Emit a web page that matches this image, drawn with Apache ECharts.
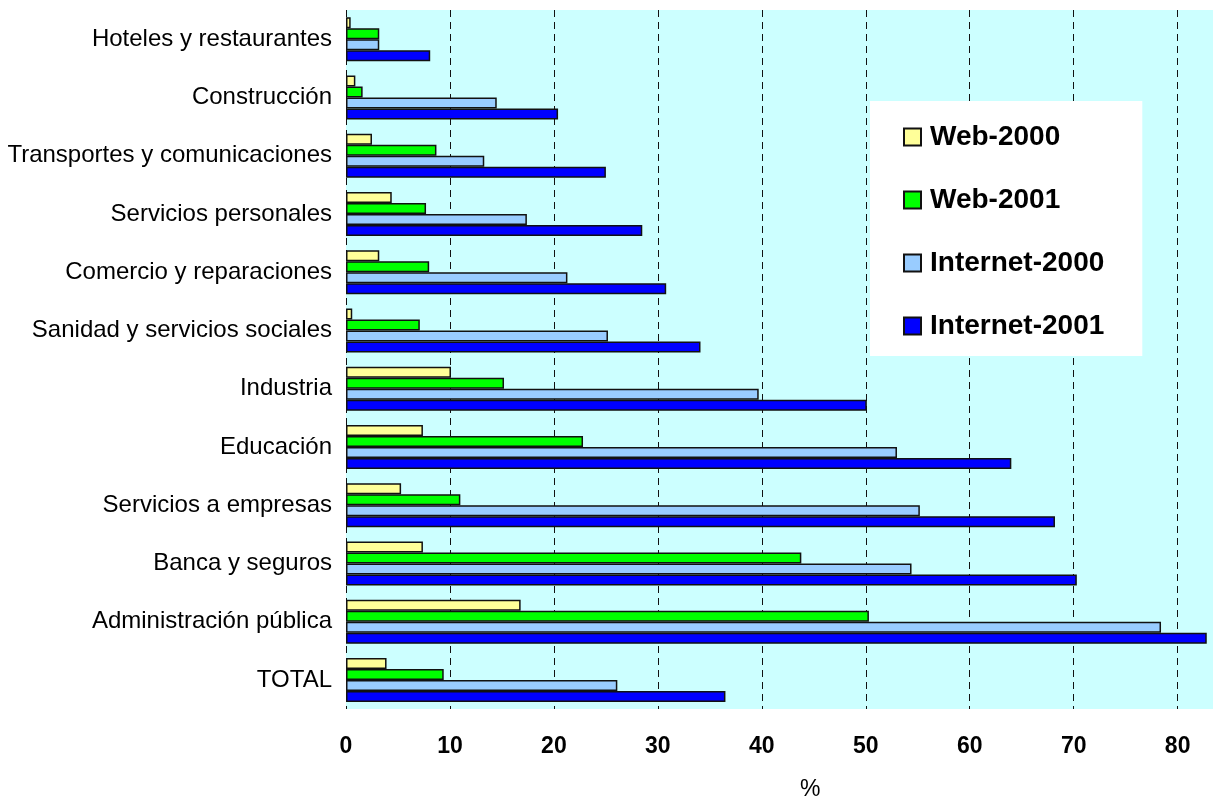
<!DOCTYPE html>
<html>
<head>
<meta charset="utf-8">
<script src="https://cdn.jsdelivr.net/npm/echarts@6/dist/echarts.min.js"></script>
<style>
  html, body { margin: 0; padding: 0; background: #ffffff; }
  #chart { width: 1213px; height: 796px; }
</style>
</head>
<body>
<div id="chart"></div>
<script>
// Sectors, listed top to bottom
const categories = [
  'Hoteles y restaurantes',
  'Construcción',
  'Transportes y comunicaciones',
  'Servicios personales',
  'Comercio y reparaciones',
  'Sanidad y servicios sociales',
  'Industria',
  'Educación',
  'Servicios a empresas',
  'Banca y seguros',
  'Administración pública',
  'TOTAL'
];

// Percentage of firms per sector
const web2000      = [0.45, 0.9, 2.5, 4.4, 3.2, 0.6, 10.1, 7.4, 5.3, 7.4, 16.8, 3.9];
const web2001      = [3.2, 1.6, 8.7, 7.7, 8.0, 7.1, 15.2, 22.8, 11.0, 43.8, 50.3, 9.4];
const internet2000 = [3.2, 14.5, 13.3, 17.4, 21.3, 25.2, 39.7, 53.0, 55.2, 54.4, 78.4, 26.1];
const internet2001 = [8.1, 20.4, 25.0, 28.5, 30.8, 34.1, 50.1, 64.0, 68.2, 70.3, 82.8, 36.5];

const seriesNames = ['Web-2000', 'Web-2001', 'Internet-2000', 'Internet-2001'];
const seriesColors = ['#FFFF99', '#00FF00', '#99CCFF', '#0000FF'];
const seriesData = [web2000, web2001, internet2000, internet2001];

const chart = echarts.init(document.getElementById('chart'), null, { renderer: 'canvas' });

const option = {
  animation: false,
  backgroundColor: '#ffffff',
  textStyle: { fontFamily: '"Liberation Sans", Arial, sans-serif' },
  grid: {
    left: 346, right: 0, top: 10, bottom: 87,
    show: true, backgroundColor: '#CCFFFF', borderWidth: 0
  },
  legend: {
    orient: 'vertical',
    left: 870, top: 101,
    backgroundColor: '#ffffff',
    padding: [22, 38, 16, 33],
    itemWidth: 17, itemHeight: 17,
    itemGap: 35,
    icon: 'rect',
    data: seriesNames,
    textStyle: {
      fontFamily: '"Liberation Sans", Arial, sans-serif',
      fontWeight: 'bold', fontSize: 28, lineHeight: 28, color: '#000',
      padding: [0, 0, 0, 4]
    }
  },
  xAxis: {
    type: 'value',
    min: 0, max: 83.4, interval: 10,
    axisLine: { show: false },
    axisTick: { show: false },
    axisLabel: {
      margin: 26,
      fontFamily: '"Liberation Sans", Arial, sans-serif',
      fontWeight: 'bold', fontSize: 23, color: '#000',
      showMaxLabel: false,
      formatter: v => (Math.abs(v % 10) < 1e-9 ? String(v) : '')
    },
    splitLine: {
      show: true,
      lineStyle: { color: '#111', width: 1, type: [7, 5] }
    }
  },
  yAxis: {
    type: 'category',
    data: categories,
    inverse: true,
    axisLine: { show: false },
    axisTick: { show: false },
    axisLabel: {
      margin: 14,
      fontFamily: '"Liberation Sans", Arial, sans-serif',
      fontSize: 24, color: '#000'
    }
  },
  series: seriesNames.map((name, i) => ({
    name: name,
    type: 'bar',
    data: seriesData[i],
    barWidth: 11,
    barGap: '0%',
    itemStyle: { color: seriesColors[i], borderColor: '#111', borderWidth: 1.5 }
  })),
  graphic: [{
    type: 'text',
    left: 800, top: 778,
    style: {
      text: '%',
      font: '23px "Liberation Sans", Arial, sans-serif',
      fill: '#000'
    }
  }]
};

chart.setOption(option);
</script>
</body>
</html>
